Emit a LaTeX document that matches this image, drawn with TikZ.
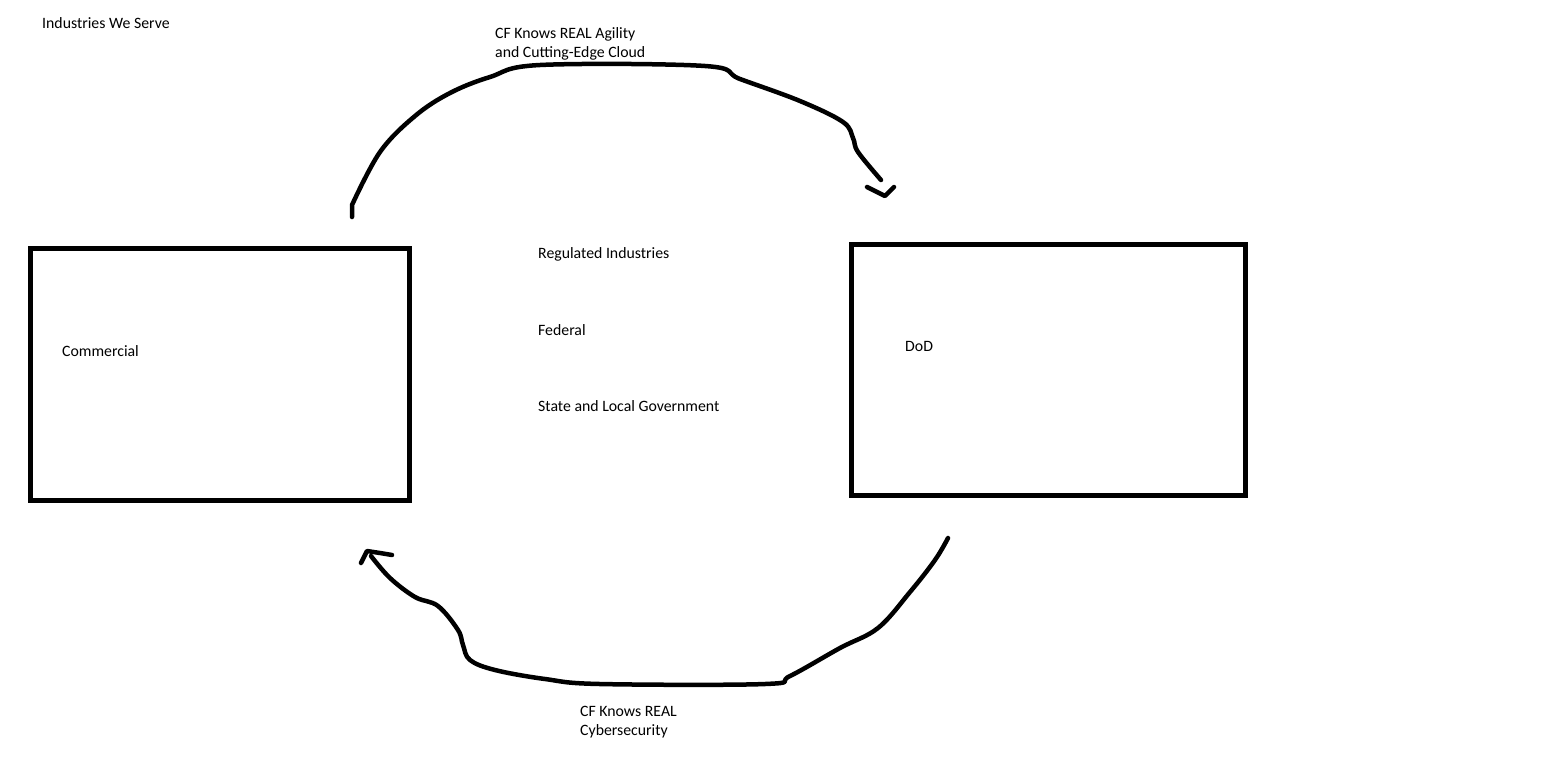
\documentclass[tikz,border=0pt]{standalone}
\usepackage{fontspec}
\setmainfont{Carlito}
\begin{document}
\begin{tikzpicture}[x=1pt,y=-1pt,
  lbl/.style={anchor=west,inner sep=0pt,font=\fontsize{15.8}{19}\selectfont,text=black},
  box/.style={draw=black,line width=5pt,fill=none},
  stroke/.style={draw=black,line width=4.5pt,line cap=round,line join=round}]
\useasboundingbox (0,0) rectangle (1555,780);
\fill[white] (0,0) rectangle (1555,780);
% boxes
\draw[box] (30.5,248.5) rectangle (409,500);
\draw[box] (851.5,244.5) rectangle (1245.5,495.5);
% labels
\node[lbl] (title) at (42,23) {Industries We Serve};
\node[lbl,align=left,anchor=north west] (top) at (495,27) {CF Knows REAL Agility\\and Cutting-Edge Cloud};
\node[lbl] (reg) at (538,254) {Regulated Industries};
\node[lbl] (fed) at (538,330) {Federal};
\node[lbl] (sl) at (538,406) {State and Local Government};
\node[lbl] (com) at (62,351) {Commercial};
\node[lbl] (dod) at (905,346) {DoD};
\node[lbl,align=left,anchor=north west] (bot) at (580,706) {CF Knows REAL\\Cybersecurity};
% top connector
\coordinate (ts) at (352,217);
\coordinate (te) at (885,196);
\draw[stroke] (ts) -- (352,205) -- plot[smooth,tension=0.6] coordinates {(352,205) (380,152) (415,116) (450,93) (490,77) (540,65) (705,66) (740,79) (800,101) (843,122) (853,138) (858,152) (881,180)};
\draw[stroke] (867,187) -- (te) -- (894,187);
% bottom connector
\coordinate (bs) at (948,538);
\coordinate (be) at (367,551);
\draw[stroke] plot[smooth,tension=0.6] coordinates {(bs) (935,560) (910,592) (878,628) (840,648) (790,676) (765,684) (600,684) (545,679) (495,670) (470,660) (463,645) (458,630) (438,606) (415,597) (390,578) (371,556)};
\draw[stroke] (392,555) -- (380,553) -- (be) -- (361,563);
\end{tikzpicture}
\end{document}
